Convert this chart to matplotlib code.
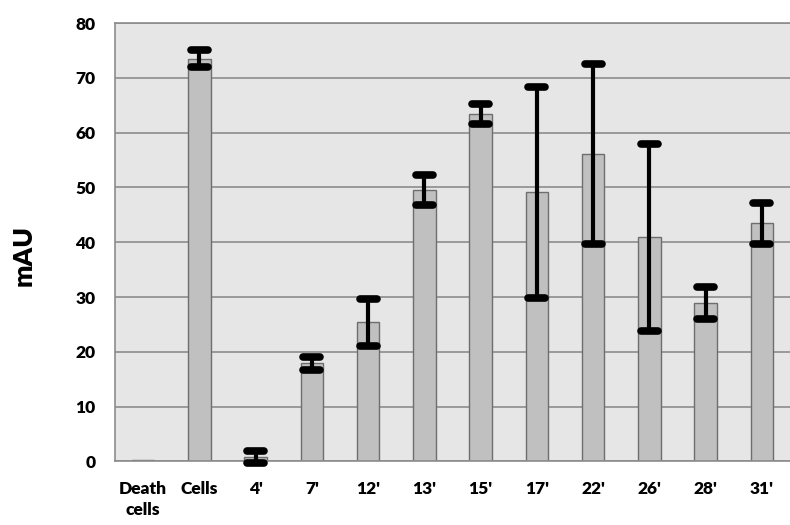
import matplotlib.pyplot as plt
import numpy as np

# datos
categorias = ["Death\ncells", "Cells", "4'", "7'", "12'", "13'", "15'", "17'", "22'", "26'", "28'", "31'"]
valores = [0.2, 73.5, 0.9, 17.9, 25.4, 49.6, 63.4, 49.1, 56.1, 40.9, 28.9, 43.5]
errores = [0.0, 1.5, 1.1, 1.2, 4.3, 2.75, 1.8, 19.3, 16.4, 17.1, 2.85, 3.75]

plt.rcParams['font.family'] = ['Lato', 'DejaVu Sans']

fig = plt.figure(figsize=(7.9, 5.25), dpi=100)
ax = fig.add_axes([0.1456, 0.121, 0.8544, 0.835])

x = np.arange(len(categorias))
v = np.array(valores)
e = np.array(errores)
ax.set_facecolor('#e6e6e6')
ax.grid(axis='y', color='#8c8c8c', linewidth=1.2)
ax.set_axisbelow(True)

ax.bar(x, v, width=0.4, color='#c0c0c0', edgecolor='#6e6e6e', linewidth=1.0, zorder=2)

# barras de error con extremos redondeados
m = e > 0
ax.vlines(x[m], v[m] - e[m], v[m] + e[m], color='black', linewidth=3, zorder=3, clip_on=False)
ax.hlines(np.concatenate([v[m] + e[m], v[m] - e[m]]),
          np.concatenate([x[m], x[m]]) - 0.15, np.concatenate([x[m], x[m]]) + 0.15,
          color='black', linewidth=5.5, capstyle='round', zorder=4, clip_on=False)

ax.set_xlim(-0.5, len(categorias) - 0.5)
ax.set_ylim(0, 80)
ax.set_yticks(range(0, 81, 10))
ax.set_xticks(x)
ax.set_xticklabels(categorias, fontweight='heavy', fontsize=12.5, linespacing=1.4)
for t in ax.get_yticklabels():
    t.set_fontweight('heavy')
    t.set_fontsize(12.5)
ax.tick_params(axis='both', length=0)
ax.tick_params(axis='y', pad=14)
ax.tick_params(axis='x', pad=14)

for lado in ['top', 'left', 'bottom']:
    ax.spines[lado].set_color('#8c8c8c')
    ax.spines[lado].set_linewidth(1.2)
ax.spines['right'].set_visible(False)

ax.set_ylabel('mAU', fontsize=19, fontweight='heavy')
ax.yaxis.set_label_coords(-0.118, 0.47)

fig.savefig('out.png', dpi=100)
